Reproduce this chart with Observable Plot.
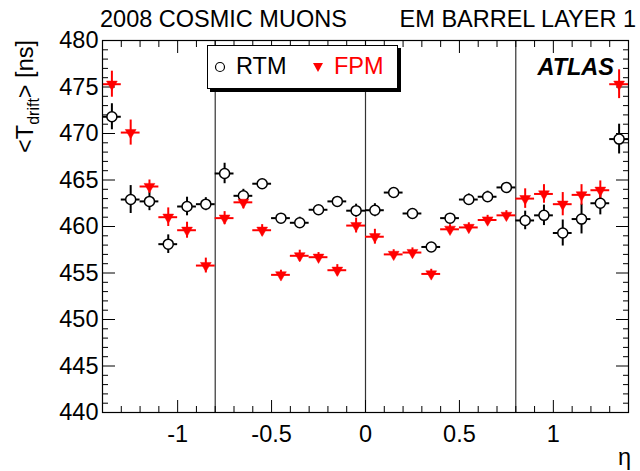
<!DOCTYPE html>
<html><head><meta charset="utf-8">
<script src="https://cdn.jsdelivr.net/npm/d3@7"></script>
<script src="https://cdn.jsdelivr.net/npm/@observablehq/plot@0.6"></script>
<style>
body{margin:0;background:#fff;}
#wrap{position:relative;width:640px;height:471px;font-family:"Liberation Sans",Arial,Helvetica,sans-serif;}
#legend{position:absolute;left:207px;top:45px;width:189px;height:42px;border:1px solid #000;background:#fff;box-shadow:3px 3px 0 #000;font-size:23.5px;}
#legend .it{position:absolute;top:7px;line-height:26px;}
</style></head><body><div id="wrap"></div>
<script>
// eta bin centres
const eta = [-1.35,-1.25,-1.15,-1.05,-0.95,-0.85,-0.75,-0.65,-0.55,-0.45,-0.35,-0.25,-0.15,-0.05,
              0.05, 0.15, 0.25, 0.35, 0.45, 0.55, 0.65, 0.75, 0.85, 0.95, 1.05, 1.15, 1.25, 1.35];
// RTM <T_drift> [ns]
const rtm = [471.8,462.9,462.7,458.1,462.15,462.4,465.7,463.3,464.6,460.9,460.4,461.8,462.7,461.7,
             461.75,463.65,461.4,457.8,460.9,462.9,463.2,464.2,460.65,461.2,459.3,460.8,462.5,469.4];
const rtmErr = [1.4,1.5,1.0,1.0,1.0,0.7,1.1,0.7,0.4,0.4,0.6,0.4,0.4,0.7,
                0.7,0.5,0.4,0.4,0.4,0.6,0.6,0.5,1.0,1.1,1.4,1.6,1.25,1.6];
// FPM <T_drift> [ns]
const fpm = [475.3,470.1,464.3,461.0,459.6,455.8,460.9,462.6,459.6,454.8,456.85,456.7,455.3,460.1,
             458.9,457.0,457.2,454.9,459.7,459.9,460.7,461.2,463.0,463.5,462.4,463.4,463.9,475.3];
const fpmErr = [1.4,1.35,0.7,1.0,0.86,0.8,0.7,0.7,0.6,0.5,0.6,0.5,0.6,0.8,
                0.8,0.5,0.5,0.5,0.5,0.5,0.5,0.5,1.05,1.0,1.25,1.1,1.0,1.55];
const binHalf = 0.05;
const sectorBounds = [-0.8, 0, 0.8];
// axis ticks
const yMajor = [440,445,450,455,460,465,470,475,480];
const yMinor = [441,442,443,444,446,447,448,449,451,452,453,454,456,457,458,459,461,462,463,464,466,467,468,469,471,472,473,474,476,477,478,479];
const xMajor = [-1,-0.5,0,0.5,1];
const xMinor = [-1.4,-1.3,-1.2,-1.1,-0.9,-0.8,-0.7,-0.6,-0.4,-0.3,-0.2,-0.1,0.1,0.2,0.3,0.4,0.6,0.7,0.8,0.9,1.1,1.2,1.3,1.4];
const xTickLabels = ["-1","-0.5","0","0.5","1"];
const titleLeft = "2008 COSMIC MUONS";
const titleRight = "EM BARREL LAYER 1";

const rows = eta.map((e,i)=>({eta:e, rtm:rtm[i], rtmErr:rtmErr[i], fpm:fpm[i], fpmErr:fpmErr[i]}));
const FONT = '"Liberation Sans",Arial,Helvetica,sans-serif';

const plot = Plot.plot({
  width:640, height:471, marginLeft:102, marginRight:12, marginTop:40, marginBottom:59,
  style:{fontFamily:FONT, fontSize:"23.5px", background:"white", color:"black", overflow:"visible"},
  x:{domain:[-1.4,1.4]},
  y:{domain:[440,480]},
  marks:[
    Plot.ruleX(sectorBounds, {stroke:"#333", strokeWidth:1.2}),
    // inward ticks on all four sides
    Plot.axisY({ticks:yMinor, anchor:"left", tickSize:-6, fill:"none", label:null}),
    Plot.axisY({ticks:yMajor, anchor:"left", tickSize:-13, fill:"none", label:null}),
    Plot.axisY({ticks:yMinor, anchor:"right", tickSize:-6, fill:"none", label:null}),
    Plot.axisY({ticks:yMajor, anchor:"right", tickSize:-13, fill:"none", label:null}),
    Plot.axisX({ticks:xMinor, anchor:"bottom", tickSize:-6, fill:"none", label:null}),
    Plot.axisX({ticks:xMajor, anchor:"bottom", tickSize:-12, fill:"none", label:null}),
    Plot.axisX({ticks:xMinor, anchor:"top", tickSize:-6, fill:"none", label:null}),
    Plot.axisX({ticks:xMajor, anchor:"top", tickSize:-12, fill:"none", label:null}),
    // tick labels
    Plot.axisY({ticks:yMajor, anchor:"left", tickSize:0, tickPadding:4, label:null}),
    Plot.axisX({ticks:xMajor, anchor:"bottom", tickSize:0, tickPadding:13, label:null,
                tickFormat:(d)=>xTickLabels[xMajor.indexOf(d)]}),
    // RTM error bars
    Plot.ruleY(rows, {y:"rtm", x1:d=>d.eta-binHalf, x2:d=>d.eta+binHalf, stroke:"black", strokeWidth:2}),
    Plot.ruleX(rows, {x:"eta", y1:d=>d.rtm-d.rtmErr, y2:d=>d.rtm+d.rtmErr, stroke:"black", strokeWidth:2}),
    // FPM error bars
    Plot.ruleY(rows, {y:"fpm", x1:d=>d.eta-binHalf, x2:d=>d.eta+binHalf, stroke:"red", strokeWidth:2}),
    Plot.ruleX(rows, {x:"eta", y1:d=>d.fpm-d.fpmErr, y2:d=>d.fpm+d.fpmErr, stroke:"red", strokeWidth:2}),
    // markers
    Plot.dot(rows, {x:"eta", y:"rtm", r:5, fill:"white", stroke:"black", strokeWidth:1.5}),
    Plot.dot(rows, {x:"eta", y:"fpm", r:4, symbol:"triangle", rotate:180, fill:"red", stroke:"red", strokeWidth:0.5}),
    Plot.frame({stroke:"black", strokeWidth:1.2})
  ]
});

const wrap = document.getElementById("wrap");
wrap.appendChild(plot);
const svg = d3.select(plot);
const addText = (x, y, txt, anchor, extra={}) => {
  const t = svg.append("text").attr("x", x).attr("y", y).attr("text-anchor", anchor)
    .attr("font-family", FONT).attr("font-size", 23.5).attr("fill", "black").text(txt);
  for (const k in extra) t.attr(k, extra[k]);
  return t;
};
addText(100, 27, titleLeft, "start");
addText(636, 27, titleRight, "end");
addText(631, 465, "η", "end");
addText(614, 75, "ATLAS", "end", {"font-weight":"bold", "font-style":"italic"});
// y-axis title with subscript
const yt = svg.append("text").attr("transform", "translate(33,40) rotate(-90)")
  .attr("text-anchor", "end").attr("font-family", FONT).attr("font-size", 23.5).attr("fill", "black");
yt.append("tspan").text("<T");
yt.append("tspan").attr("dy", 6).attr("font-size", 16).text("drift");
yt.append("tspan").attr("dy", -6).text("> [ns]");

// legend
const lg = document.createElement("div");
lg.id = "legend";
lg.innerHTML =
  '<svg style="position:absolute;left:5px;top:14px" width="14" height="14"><circle cx="7" cy="7" r="4.5" fill="white" stroke="black" stroke-width="1.2"/></svg>' +
  '<span class="it" style="left:28px;color:#000">RTM</span>' +
  '<svg style="position:absolute;left:103px;top:14px" width="14" height="14"><path d="M2,3 L12,3 L7,12 Z" fill="red"/></svg>' +
  '<span class="it" style="left:126px;color:red">FPM</span>';
wrap.appendChild(lg);
</script></body></html>
